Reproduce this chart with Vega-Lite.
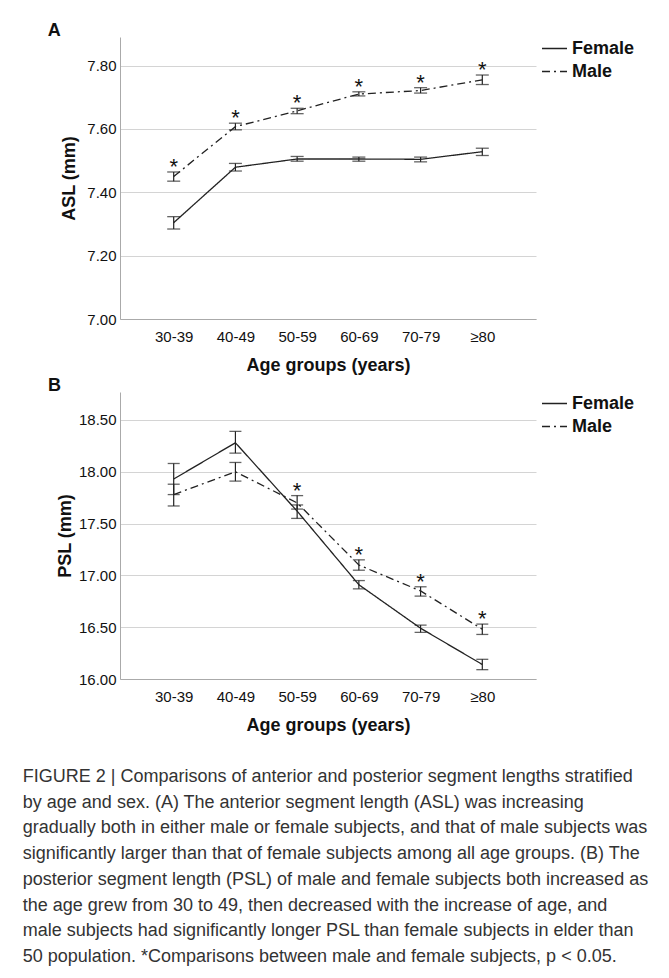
{
  "$schema": "https://vega.github.io/schema/vega-lite/v6.json",
  "background": "white",
  "padding": {"left": 22, "top": 22, "right": 5, "bottom": 5},
  "config": {
    "font": "Liberation Sans",
    "view": {"stroke": null},
    "axis": {"labelColor": "#111", "titleColor": "#111"}
  },
  "datasets": {
    "asl": [
      {"age": "30-39", "sex": "Female", "mean": 7.304, "lo": 7.284, "hi": 7.323, "sig": false},
      {"age": "30-39", "sex": "Male", "mean": 7.450, "lo": 7.435, "hi": 7.464, "sig": true},
      {"age": "40-49", "sex": "Female", "mean": 7.479, "lo": 7.467, "hi": 7.491, "sig": false},
      {"age": "40-49", "sex": "Male", "mean": 7.607, "lo": 7.597, "hi": 7.618, "sig": true},
      {"age": "50-59", "sex": "Female", "mean": 7.505, "lo": 7.498, "hi": 7.513, "sig": false},
      {"age": "50-59", "sex": "Male", "mean": 7.657, "lo": 7.648, "hi": 7.665, "sig": true},
      {"age": "60-69", "sex": "Female", "mean": 7.505, "lo": 7.498, "hi": 7.511, "sig": false},
      {"age": "60-69", "sex": "Male", "mean": 7.710, "lo": 7.704, "hi": 7.717, "sig": true},
      {"age": "70-79", "sex": "Female", "mean": 7.504, "lo": 7.496, "hi": 7.511, "sig": false},
      {"age": "70-79", "sex": "Male", "mean": 7.721, "lo": 7.713, "hi": 7.730, "sig": true},
      {"age": "≥80", "sex": "Female", "mean": 7.528, "lo": 7.516, "hi": 7.539, "sig": false},
      {"age": "≥80", "sex": "Male", "mean": 7.755, "lo": 7.740, "hi": 7.770, "sig": true}
    ],
    "psl": [
      {"age": "30-39", "sex": "Female", "mean": 17.93, "lo": 17.78, "hi": 18.08, "sig": false},
      {"age": "30-39", "sex": "Male", "mean": 17.78, "lo": 17.67, "hi": 17.88, "sig": false},
      {"age": "40-49", "sex": "Female", "mean": 18.28, "lo": 18.18, "hi": 18.39, "sig": false},
      {"age": "40-49", "sex": "Male", "mean": 18.00, "lo": 17.91, "hi": 18.09, "sig": false},
      {"age": "50-59", "sex": "Female", "mean": 17.62, "lo": 17.55, "hi": 17.68, "sig": false},
      {"age": "50-59", "sex": "Male", "mean": 17.70, "lo": 17.64, "hi": 17.77, "sig": true},
      {"age": "60-69", "sex": "Female", "mean": 16.91, "lo": 16.87, "hi": 16.95, "sig": false},
      {"age": "60-69", "sex": "Male", "mean": 17.10, "lo": 17.05, "hi": 17.15, "sig": true},
      {"age": "70-79", "sex": "Female", "mean": 16.49, "lo": 16.45, "hi": 16.52, "sig": false},
      {"age": "70-79", "sex": "Male", "mean": 16.85, "lo": 16.80, "hi": 16.89, "sig": true},
      {"age": "≥80", "sex": "Female", "mean": 16.14, "lo": 16.09, "hi": 16.19, "sig": false},
      {"age": "≥80", "sex": "Male", "mean": 16.48, "lo": 16.43, "hi": 16.53, "sig": true}
    ]
  },
  "title": {
    "text": [
      "FIGURE 2 | Comparisons of anterior and posterior segment lengths stratified",
      "by age and sex. (A) The anterior segment length (ASL) was increasing",
      "gradually both in either male or female subjects, and that of male subjects was",
      "significantly larger than that of female subjects among all age groups. (B) The",
      "posterior segment length (PSL) of male and female subjects both increased as",
      "the age grew from 30 to 49, then decreased with the increase of age, and",
      "male subjects had significantly longer PSL than female subjects in elder than",
      "50 population. *Comparisons between male and female subjects, p < 0.05."
    ],
    "orient": "bottom",
    "anchor": "start",
    "frame": "bounds",
    "fontSize": 18,
    "fontWeight": "normal",
    "color": "#333",
    "lineHeight": 25.7,
    "offset": 34,
    "dx": -25
  },
  "spacing": 3,
  "resolve": {"scale": {"strokeDash": "independent"}, "legend": {"strokeDash": "independent"}},
  "vconcat": [
    {
      "width": 416,
      "height": 282,
      "title": {"text": "A", "anchor": "start", "frame": "bounds", "fontSize": 18, "fontWeight": "bold", "color": "#111", "offset": 0, "dx": -13, "dy": 5},
      "data": {"name": "asl"},
      "encoding": {
        "x": {
          "field": "age", "type": "ordinal",
          "sort": ["30-39", "40-49", "50-59", "60-69", "70-79", "≥80"],
          "scale": {"type": "point", "padding": 0.87},
          "axis": {"title": "Age groups (years)", "titleFontSize": 18, "titleFontWeight": "bold", "labelFontSize": 15, "labelPadding": 10, "ticks": false, "domainColor": "#aaa", "labelAngle": 0, "titlePadding": 12, "grid": false}
        }
      },
      "layer": [
        {
          "mark": {"type": "line", "color": "#222", "strokeWidth": 1.3},
          "encoding": {
            "y": {"field": "mean", "type": "quantitative", "scale": {"domain": [7.0, 7.89], "nice": false, "zero": false},
              "axis": {"title": "ASL (mm)", "values": [7.0, 7.2, 7.4, 7.6, 7.8], "format": ".2f", "labelFontSize": 15, "ticks": false, "labelPadding": 4, "gridColor": "#d4d4d4", "domainColor": "#aaa", "titleFontSize": 18, "titleFontWeight": "bold", "titlePadding": 8}},
            "strokeDash": {"field": "sex", "type": "nominal", "scale": {"domain": ["Female", "Male"], "range": [[1, 0], [8, 4, 2, 4]]},
              "legend": {"title": null, "orient": "none", "legendX": 421, "legendY": -2, "symbolType": "stroke", "symbolSize": 625, "symbolStrokeWidth": 1.5, "symbolStrokeColor": "#222", "labelFontSize": 18, "labelFontWeight": "bold", "labelColor": "#111", "labelOffset": 4, "rowPadding": 0}}
          }
        },
        {
          "mark": {"type": "rule", "color": "#222", "strokeWidth": 1.2},
          "encoding": {"y": {"field": "lo", "type": "quantitative"}, "y2": {"field": "hi"}, "detail": {"field": "sex"}}
        },
        {
          "mark": {"type": "tick", "color": "#222", "thickness": 1.3, "size": 13},
          "encoding": {"y": {"field": "lo", "type": "quantitative"}}
        },
        {
          "mark": {"type": "tick", "color": "#222", "thickness": 1.3, "size": 13},
          "encoding": {"y": {"field": "hi", "type": "quantitative"}}
        },
        {
          "transform": [{"filter": "datum.sig"}],
          "mark": {"type": "text", "text": "*", "fontSize": 22, "baseline": "alphabetic", "dy": 2, "color": "#111"},
          "encoding": {"y": {"field": "hi", "type": "quantitative"}}
        }
      ]
    },
    {
      "width": 416,
      "height": 287,
      "title": {"text": "B", "anchor": "start", "frame": "bounds", "fontSize": 18, "fontWeight": "bold", "color": "#111", "offset": 0, "dx": -8.5, "dy": 5},
      "data": {"name": "psl"},
      "encoding": {
        "x": {
          "field": "age", "type": "ordinal",
          "sort": ["30-39", "40-49", "50-59", "60-69", "70-79", "≥80"],
          "scale": {"type": "point", "padding": 0.87},
          "axis": {"title": "Age groups (years)", "titleFontSize": 18, "titleFontWeight": "bold", "labelFontSize": 15, "labelPadding": 10, "ticks": false, "domainColor": "#aaa", "labelAngle": 0, "titlePadding": 12, "grid": false}
        }
      },
      "layer": [
        {
          "mark": {"type": "line", "color": "#222", "strokeWidth": 1.3},
          "encoding": {
            "y": {"field": "mean", "type": "quantitative", "scale": {"domain": [16.0, 18.77], "nice": false, "zero": false},
              "axis": {"title": "PSL (mm)", "values": [16.0, 16.5, 17.0, 17.5, 18.0, 18.5], "format": ".2f", "labelFontSize": 15, "ticks": false, "labelPadding": 4, "gridColor": "#d4d4d4", "domainColor": "#aaa", "titleFontSize": 18, "titleFontWeight": "bold", "titlePadding": 4}},
            "strokeDash": {"field": "sex", "type": "nominal", "scale": {"domain": ["Female", "Male"], "range": [[1, 0], [8, 4, 2, 4]]},
              "legend": {"title": null, "orient": "none", "legendX": 421, "legendY": -2, "symbolType": "stroke", "symbolSize": 625, "symbolStrokeWidth": 1.5, "symbolStrokeColor": "#222", "labelFontSize": 18, "labelFontWeight": "bold", "labelColor": "#111", "labelOffset": 4, "rowPadding": 0}}
          }
        },
        {
          "mark": {"type": "rule", "color": "#222", "strokeWidth": 1.2},
          "encoding": {"y": {"field": "lo", "type": "quantitative"}, "y2": {"field": "hi"}, "detail": {"field": "sex"}}
        },
        {
          "mark": {"type": "tick", "color": "#222", "thickness": 1.3, "size": 12},
          "encoding": {"y": {"field": "lo", "type": "quantitative"}}
        },
        {
          "mark": {"type": "tick", "color": "#222", "thickness": 1.3, "size": 12},
          "encoding": {"y": {"field": "hi", "type": "quantitative"}}
        },
        {
          "transform": [{"filter": "datum.sig"}],
          "mark": {"type": "text", "text": "*", "fontSize": 22, "baseline": "alphabetic", "dy": 2, "color": "#111"},
          "encoding": {"y": {"field": "hi", "type": "quantitative"}}
        }
      ]
    }
  ]
}
